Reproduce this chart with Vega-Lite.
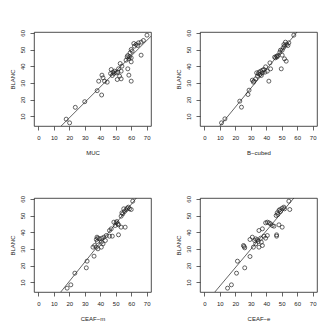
{
"$schema":"https://vega.github.io/schema/vega-lite/v6.json",
"padding":{"left":8,"top":29,"right":0,"bottom":0},
"bounds":"flush",
"columns":2,
"spacing":{"row":72,"column":49},
"datasets":{
"muc":[{"x":70.2,"y":58.6},{"x":67.9,"y":55.4},{"x":66.4,"y":54.4},{"x":64.7,"y":54},{"x":63.2,"y":53},{"x":61.7,"y":53.6},{"x":62.1,"y":52},{"x":64.2,"y":52.4},{"x":60,"y":50},{"x":60.6,"y":49},{"x":59.3,"y":48},{"x":57.8,"y":46.4},{"x":57.4,"y":45.6},{"x":58.9,"y":45.6},{"x":60,"y":45},{"x":58.5,"y":44.4},{"x":56.7,"y":43.6},{"x":60,"y":42.6},{"x":66.4,"y":46.6},{"x":57.8,"y":38.4},{"x":58.5,"y":34.6},{"x":60,"y":31},{"x":52.9,"y":41.6},{"x":54,"y":40},{"x":51.8,"y":38.4},{"x":53.5,"y":37},{"x":47.1,"y":38},{"x":48.2,"y":36.4},{"x":49.3,"y":37},{"x":50.3,"y":36},{"x":51.4,"y":36.4},{"x":48.8,"y":35.6},{"x":46.7,"y":35.6},{"x":47.8,"y":34.4},{"x":51,"y":32},{"x":53.5,"y":32.4},{"x":52.5,"y":34},{"x":41.1,"y":34.6},{"x":41.8,"y":33},{"x":42.8,"y":31},{"x":44.5,"y":30.4},{"x":39,"y":31},{"x":40.9,"y":22.7},{"x":38,"y":25.3},{"x":30,"y":18.7},{"x":23.9,"y":15.3},{"x":18,"y":8.2},{"x":20.2,"y":6}],
"bcubed":[{"x":57.8,"y":58.6},{"x":54.6,"y":54},{"x":53.1,"y":53},{"x":51.8,"y":52},{"x":51,"y":51},{"x":50.3,"y":49.6},{"x":52.4,"y":54.4},{"x":54,"y":52.4},{"x":51.4,"y":53},{"x":49.2,"y":49.6},{"x":48.8,"y":48.4},{"x":50.3,"y":46.6},{"x":51.8,"y":44.4},{"x":52.9,"y":43},{"x":46.7,"y":46},{"x":46,"y":45},{"x":47.1,"y":45.6},{"x":45.4,"y":45.4},{"x":47.5,"y":46.4},{"x":49.7,"y":38.4},{"x":42.4,"y":42},{"x":42.8,"y":38.4},{"x":39.6,"y":39.6},{"x":38.5,"y":38},{"x":37.6,"y":37.6},{"x":36.4,"y":37},{"x":35.3,"y":36.4},{"x":34.9,"y":35.4},{"x":33.8,"y":36},{"x":36,"y":35},{"x":36.8,"y":34.4},{"x":39.2,"y":36.4},{"x":40.7,"y":37},{"x":37.5,"y":36},{"x":41.7,"y":31},{"x":33.2,"y":32.4},{"x":32.1,"y":31},{"x":31.7,"y":30.4},{"x":34.3,"y":34},{"x":31,"y":31.6},{"x":28.9,"y":25.6},{"x":28.2,"y":23},{"x":22.9,"y":19},{"x":24,"y":15.4},{"x":13.3,"y":8.4},{"x":11.1,"y":6}],
"ceafm":[{"x":61,"y":58.6},{"x":58.2,"y":55},{"x":57.4,"y":54.4},{"x":56.7,"y":53.4},{"x":55.7,"y":52.4},{"x":54.6,"y":51},{"x":53.5,"y":49.6},{"x":55.2,"y":54},{"x":58.9,"y":54},{"x":60,"y":53.6},{"x":54,"y":51.6},{"x":48.8,"y":46},{"x":50.3,"y":45.6},{"x":51.4,"y":45},{"x":49.7,"y":44},{"x":51.8,"y":44.4},{"x":50.7,"y":46.4},{"x":53.5,"y":43},{"x":56.1,"y":43},{"x":47.1,"y":42},{"x":46,"y":41},{"x":51.8,"y":38.4},{"x":46,"y":37.6},{"x":47.8,"y":37.6},{"x":43.9,"y":38},{"x":42.4,"y":37},{"x":41.1,"y":36.4},{"x":39.6,"y":36},{"x":38.5,"y":36.4},{"x":37.5,"y":35.6},{"x":38.1,"y":34.4},{"x":40.7,"y":34},{"x":43.3,"y":35},{"x":41.8,"y":33},{"x":37.9,"y":37},{"x":35.3,"y":31},{"x":36.4,"y":32},{"x":37.5,"y":31},{"x":38.5,"y":30},{"x":40.7,"y":31},{"x":36,"y":25.6},{"x":31.5,"y":22.6},{"x":31,"y":18.6},{"x":23.6,"y":15.4},{"x":21,"y":8.4},{"x":18.6,"y":6.4}],
"ceafe":[{"x":54.6,"y":58.6},{"x":55.2,"y":53.6},{"x":51.4,"y":55},{"x":50.3,"y":54.4},{"x":48.8,"y":53.6},{"x":48.2,"y":53},{"x":47.1,"y":51.6},{"x":46.4,"y":50},{"x":51.8,"y":54},{"x":49.2,"y":52.4},{"x":47.5,"y":50.6},{"x":40.7,"y":46},{"x":41.8,"y":45.6},{"x":42.8,"y":45},{"x":39.6,"y":45.6},{"x":43.9,"y":44},{"x":45,"y":43.6},{"x":48.2,"y":44.4},{"x":50.3,"y":43},{"x":46.7,"y":38.4},{"x":46.7,"y":37.6},{"x":35.3,"y":41},{"x":37.5,"y":42},{"x":38.5,"y":37.6},{"x":40.7,"y":38},{"x":39.6,"y":36.4},{"x":36.4,"y":36.4},{"x":34.3,"y":35.4},{"x":33.2,"y":36},{"x":32.5,"y":35},{"x":34.9,"y":34.4},{"x":36.8,"y":34},{"x":33.2,"y":33},{"x":35.3,"y":31},{"x":37.5,"y":32},{"x":31.7,"y":31},{"x":29.5,"y":35.6},{"x":31,"y":37},{"x":25.3,"y":32},{"x":26.1,"y":30.6},{"x":25.7,"y":31.4},{"x":29.5,"y":25.4},{"x":21.4,"y":22.6},{"x":26.1,"y":18.6},{"x":20.8,"y":15.4},{"x":17.5,"y":8.4},{"x":15,"y":6.4}],
"fit_muc":[{"x":10,"y":-0.32},{"x":75,"y":60.0}],
"fit_bcubed":[{"x":8,"y":1.84},{"x":62,"y":62.86}],
"fit_ceafm":[{"x":12,"y":1.25},{"x":66,"y":63.56}],
"fit_ceafe":[{"x":5,"y":2.12},{"x":60,"y":62.84}]
},
"concat":[
{"width":117,"height":94,"layer":[
{"data":{"name":"muc"},"mark":{"type":"point","shape":"circle","filled":false,"size":16,"strokeWidth":0.7,"color":"#222","opacity":1},
"encoding":{"x":{"field":"x","type":"quantitative","title":"MUC","axis":{"labelOverlap":false,"values":[0,10,20,30,40,50,60,70]},"scale":{"domain":[-2.8,72.8],"nice":false,"zero":false}},"y":{"field":"y","type":"quantitative","title":"BLANC","axis":{"labelOverlap":false,"values":[10,20,30,40,50,60]},"scale":{"domain":[4.1,60.5],"nice":false,"zero":false}}}},
{"data":{"name":"fit_muc"},"mark":{"type":"line","clip":true,"color":"#222","strokeWidth":0.7},
"encoding":{"x":{"field":"x","type":"quantitative","title":"MUC","axis":{"labelOverlap":false,"values":[0,10,20,30,40,50,60,70]}},"y":{"field":"y","type":"quantitative","title":"BLANC","axis":{"labelOverlap":false,"values":[10,20,30,40,50,60]}}}}]},
{"width":117,"height":94,"layer":[
{"data":{"name":"bcubed"},"mark":{"type":"point","shape":"circle","filled":false,"size":16,"strokeWidth":0.7,"color":"#222","opacity":1},
"encoding":{"x":{"field":"x","type":"quantitative","title":"B−cubed","axis":{"labelOverlap":false,"values":[0,10,20,30,40,50,60,70]},"scale":{"domain":[-2.8,72.8],"nice":false,"zero":false}},"y":{"field":"y","type":"quantitative","title":"BLANC","axis":{"labelOverlap":false,"values":[10,20,30,40,50,60]},"scale":{"domain":[4.1,60.5],"nice":false,"zero":false}}}},
{"data":{"name":"fit_bcubed"},"mark":{"type":"line","clip":true,"color":"#222","strokeWidth":0.7},
"encoding":{"x":{"field":"x","type":"quantitative","title":"B−cubed","axis":{"labelOverlap":false,"values":[0,10,20,30,40,50,60,70]}},"y":{"field":"y","type":"quantitative","title":"BLANC","axis":{"labelOverlap":false,"values":[10,20,30,40,50,60]}}}}]},
{"width":117,"height":94,"layer":[
{"data":{"name":"ceafm"},"mark":{"type":"point","shape":"circle","filled":false,"size":16,"strokeWidth":0.7,"color":"#222","opacity":1},
"encoding":{"x":{"field":"x","type":"quantitative","title":"CEAF−m","axis":{"labelOverlap":false,"values":[0,10,20,30,40,50,60,70]},"scale":{"domain":[-2.8,72.8],"nice":false,"zero":false}},"y":{"field":"y","type":"quantitative","title":"BLANC","axis":{"labelOverlap":false,"values":[10,20,30,40,50,60]},"scale":{"domain":[4.1,60.5],"nice":false,"zero":false}}}},
{"data":{"name":"fit_ceafm"},"mark":{"type":"line","clip":true,"color":"#222","strokeWidth":0.7},
"encoding":{"x":{"field":"x","type":"quantitative","title":"CEAF−m","axis":{"labelOverlap":false,"values":[0,10,20,30,40,50,60,70]}},"y":{"field":"y","type":"quantitative","title":"BLANC","axis":{"labelOverlap":false,"values":[10,20,30,40,50,60]}}}}]},
{"width":117,"height":94,"layer":[
{"data":{"name":"ceafe"},"mark":{"type":"point","shape":"circle","filled":false,"size":16,"strokeWidth":0.7,"color":"#222","opacity":1},
"encoding":{"x":{"field":"x","type":"quantitative","title":"CEAF−e","axis":{"labelOverlap":false,"values":[0,10,20,30,40,50,60,70]},"scale":{"domain":[-2.8,72.8],"nice":false,"zero":false}},"y":{"field":"y","type":"quantitative","title":"BLANC","axis":{"labelOverlap":false,"values":[10,20,30,40,50,60]},"scale":{"domain":[4.1,60.5],"nice":false,"zero":false}}}},
{"data":{"name":"fit_ceafe"},"mark":{"type":"line","clip":true,"color":"#222","strokeWidth":0.7},
"encoding":{"x":{"field":"x","type":"quantitative","title":"CEAF−e","axis":{"labelOverlap":false,"values":[0,10,20,30,40,50,60,70]}},"y":{"field":"y","type":"quantitative","title":"BLANC","axis":{"labelOverlap":false,"values":[10,20,30,40,50,60]}}}}]}
],
"config":{
"view":{"stroke":"#222","strokeWidth":0.8},
"font":"Liberation Sans",
"axis":{"grid":false,"domain":false,"ticks":true,"tickColor":"#222","tickSize":4,"tickWidth":0.7,"labelFont":"Liberation Sans","labelFontSize":6,"labelColor":"#222","titleFont":"Liberation Sans","titleFontSize":6,"titleFontWeight":"normal","titleColor":"#222","labelFlush":false},
"axisX":{"labelAngle":0,"labelBaseline":"top","labelPadding":4,"titleY":28.5,"titleBaseline":"alphabetic"},
"axisY":{"labelAngle":-90,"labelAlign":"center","labelBaseline":"alphabetic","labelPadding":5.5,"titleAngle":-90,"titleX":-20,"titleY":47,"titleAlign":"center","titleBaseline":"alphabetic"}
}
}
